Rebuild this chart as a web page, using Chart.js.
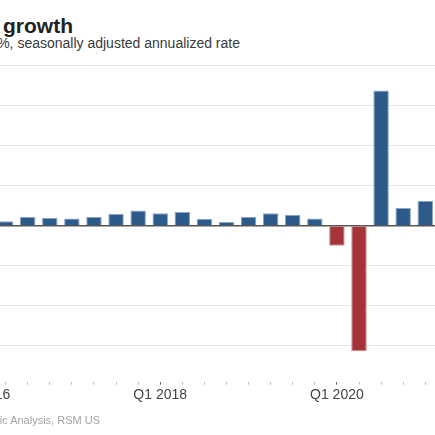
<!DOCTYPE html>
<html lang="en">
<head>
  <meta charset="UTF-8">
  <meta name="viewport" content="width=device-width, initial-scale=1.0">
  <title>Real GDP growth</title>
  <script src="https://cdn.jsdelivr.net/npm/chart.js"></script>
  <style>
    html, body { margin: 0; padding: 0; background: #fff; overflow: hidden; }
    #frame { position: relative; width: 435px; height: 435px; overflow: hidden; font-family: 'Liberation Sans', Arial, sans-serif; }
    .txt { position: absolute; white-space: nowrap; text-align: right; }
    #title { right: 362px; top: 15px; font-size: 21px; line-height: 21px; font-weight: bold; color: #222; }
    #subtitle { right: 195px; top: 36px; font-size: 14px; line-height: 14px; color: #3a3a3a; }
    #source { right: 335px; top: 415px; font-size: 11px; line-height: 11px; color: #a3a3a3; }
    #plot { position: absolute; left: -130px; top: 56px; width: 570px; height: 379px; }
  </style>
</head>
<body>
  <div id="frame">
    <div class="txt" id="title">Real GDP growth</div>
    <div class="txt" id="subtitle">In %, seasonally adjusted annualized rate</div>
    <div id="plot"><canvas id="myChart"></canvas></div>
    <div class="txt" id="source">Source: Bureau of Economic Analysis, RSM US</div>
  </div>

  <script>
    const quarters = [
      'Q1 2016', 'Q2 2016', 'Q3 2016', 'Q4 2016',
      'Q1 2017', 'Q2 2017', 'Q3 2017', 'Q4 2017',
      'Q1 2018', 'Q2 2018', 'Q3 2018', 'Q4 2018',
      'Q1 2019', 'Q2 2019', 'Q3 2019', 'Q4 2019',
      'Q1 2020', 'Q2 2020', 'Q3 2020', 'Q4 2020',
      'Q1 2021'
    ];
    const growth = [
      1.5, 1.1, 2.2, 1.9,
      1.8, 2.2, 2.9, 3.8,
      3.1, 3.4, 1.7, 0.9,
      2.2, 3.1, 2.7, 1.8,
      -5.0, -31.4, 33.8, 4.4,
      6.2
    ];
    const tickLabels = ['Q1 2016', 'Q1 2018', 'Q1 2020'];

    const BLUE = '#2c5a8a';
    const RED = '#a5333a';

    Chart.defaults.font.family = "'Liberation Sans', Arial, sans-serif";

    const ctx = document.getElementById('myChart');

    new Chart(ctx, {
      type: 'bar',
      data: {
        labels: quarters,
        datasets: [{
          label: 'Real GDP growth',
          data: growth,
          backgroundColor: growth.map(v => v < 0 ? RED : BLUE),
          borderColor: growth.map(v => v < 0 ? '#c98a8e' : '#8aa3c0'),
          borderWidth: 1,
          barPercentage: 0.7,
          categoryPercentage: 1
        }]
      },
      options: {
        responsive: true,
        maintainAspectRatio: false,
        animation: false,
        // chart is wider than the window; the left part (y labels, Q1 2016) is cropped
        layout: {
          padding: { left: 102.5, right: 3.7, top: 9.7, bottom: 29.5 }
        },
        plugins: {
          legend: { display: false },
          tooltip: { enabled: false }
        },
        scales: {
          x: {
            offset: true,
            border: { display: false },
            grid: {
              offset: false,
              drawOnChartArea: false,
              tickLength: 3,
              tickColor: c => tickLabels.includes(quarters[c.index]) ? '#666' : '#bbb'
            },
            ticks: {
              autoSkip: false,
              maxRotation: 0,
              padding: 2,
              color: '#444',
              font: { size: 14 },
              callback: function(value) {
                const q = this.getLabelForValue(value);
                return tickLabels.includes(q) ? q : '';
              }
            }
          },
          y: {
            min: -39,
            max: 40,
            border: { display: false },
            ticks: { display: false, stepSize: 10 },
            grid: {
              drawTicks: false,
              color: c => {
                const v = c.tick.value;
                if (v === 0) return '#555';
                return v % 10 === 0 ? '#e6e6e6' : 'rgba(0,0,0,0)';
              },
              lineWidth: c => c.tick.value === 0 ? 1.5 : 1
            }
          }
        }
      }
    });
  </script>
</body>
</html>
